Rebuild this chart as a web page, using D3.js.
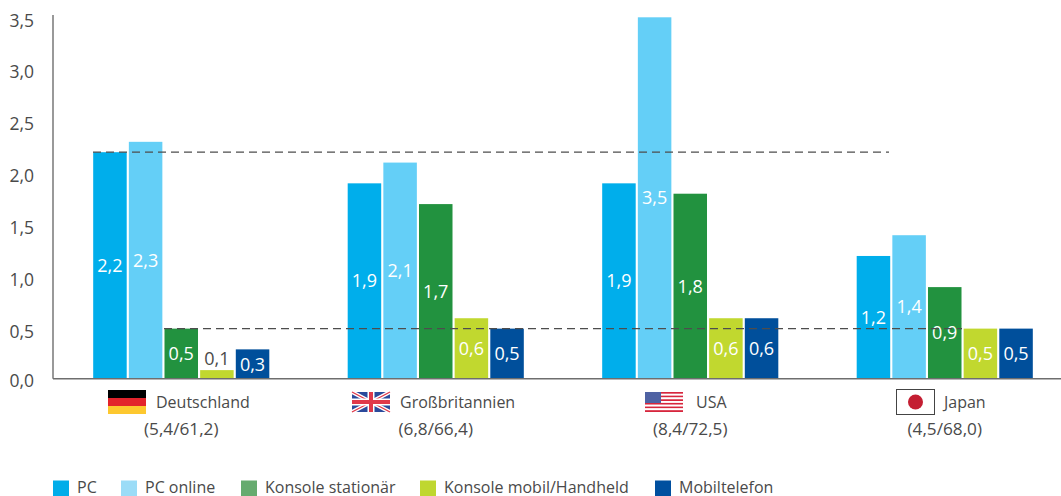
<!DOCTYPE html>
<html>
<head>
<meta charset="utf-8">
<script src="https://cdn.jsdelivr.net/npm/d3@7"></script>
<style>
  html, body { margin: 0; padding: 0; background: #fff; }
  svg { display: block; }
  text { font-family: "Open Sans", "Noto Sans", sans-serif; fill: #4a4a4a; }
</style>
</head>
<body>
<div id="chart"></div>
<script>

  var countries = ["Deutschland", "Großbritannien", "USA", "Japan"];
  var subLabels = ["(5,4/61,2)", "(6,8/66,4)", "(8,4/72,5)", "(4,5/68,0)"];
  var seriesNames = ["PC", "PC online", "Konsole stationär", "Konsole mobil/Handheld", "Mobiltelefon"];
  var pc = [2.2, 1.9, 1.9, 1.2];
  var pcOnline = [2.3, 2.1, 3.5, 1.4];
  var konsole = [0.5, 1.7, 1.8, 0.9];
  var handheld = [0.1, 0.6, 0.6, 0.5];
  var mobil = [0.3, 0.5, 0.6, 0.5];
  var yTicks = [0, 0.5, 1, 1.5, 2, 2.5, 3, 3.5];
  var refValues = [2.2, 0.5];

  var barColors = ["#00aeeb", "#64cff7", "#22923f", "#c1d82f", "#004f9b"];
  var legendColors = ["#00ade9", "#9bdcf7", "#66ab6f", "#bfd730", "#004f9f"];

  var allSeries = [pc, pcOnline, konsole, handheld, mobil];
  var comma = function(v) { return d3.format(".1f")(v).replace(".", ","); };

  var width = 1061, height = 496, axisY = 378.7;

  var svg = d3.select("#chart").append("svg")
    .attr("width", width)
    .attr("height", height);

  //=========================================================================
  // Scales
  //=========================================================================
  var y = d3.scaleLinear().domain([0, 3.5]).range([380.5, 17.3]);

  var x0 = d3.scaleBand().domain(countries).range([54, 1072])
    .paddingInner(0.308).paddingOuter(0.154);

  var x1 = d3.scaleBand().domain(d3.range(seriesNames.length))
    .range([0, x0.bandwidth()]).paddingInner(0.06);

  //=========================================================================
  // Bars
  //=========================================================================
  var groups = svg.selectAll(".group")
    .data(countries)
    .enter().append("g")
    .attr("class", "group")
    .attr("transform", function(d) { return "translate(" + x0(d) + ",0)"; });

  groups.each(function(country, c) {
    var g = d3.select(this);
    allSeries.forEach(function(values, s) {
      var v = values[c];
      g.append("rect")
        .attr("x", x1(s))
        .attr("y", y(v))
        .attr("width", x1.bandwidth())
        .attr("height", axisY - y(v))
        .attr("fill", barColors[s]);
    });
  });

  //=========================================================================
  // Axes and dashed reference lines
  //=========================================================================
  var yAxis = d3.axisLeft(y).tickValues(yTicks).tickFormat(comma).tickSize(0).tickPadding(0);
  var yG = svg.append("g").attr("transform", "translate(34,0)").call(yAxis);
  yG.select(".domain").remove();
  // the labels above zero sit a little under their tick in the original
  yG.selectAll("text")
    .attr("font-size", 17.5)
    .style("font-family", "\"Open Sans\", \"Noto Sans\", sans-serif")
    .style("fill", "#4a4a4a")
    .attr("dy", function(d) { return d === 0 ? "0.36em" : "0.5em"; });

  svg.append("line")
    .attr("x1", 53).attr("x2", 53).attr("y1", 15).attr("y2", axisY)
    .attr("stroke", "#6e6e6e").attr("stroke-width", 1.4);
  svg.append("line")
    .attr("x1", 53).attr("x2", width).attr("y1", axisY).attr("y2", axisY)
    .attr("stroke", "#6e6e6e").attr("stroke-width", 1.4);

  var refX = [[93, 889], [164, 962]];
  refValues.forEach(function(v, i) {
    svg.append("line")
      .attr("x1", refX[i][0]).attr("x2", refX[i][1])
      .attr("y1", y(v)).attr("y2", y(v))
      .attr("stroke", "#4d4d4d").attr("stroke-width", 1.2)
      .attr("stroke-dasharray", "8 5");
  });

  //=========================================================================
  // Value labels, mid bar (the 0,1 does not fit and sits on top)
  //=========================================================================
  groups.each(function(country, c) {
    var g = d3.select(this);
    allSeries.forEach(function(values, s) {
      var v = values[c];
      var outside = v < 0.2;
      g.append("text")
        .attr("x", x1(s) + x1.bandwidth() / 2)
        .attr("y", outside ? y(v) - 5 : (y(v) + axisY) / 2)
        .attr("dy", outside ? 0 : "0.36em")
        .attr("text-anchor", "middle")
        .attr("font-size", 18)
        .style("fill", outside ? "#4a4a4a" : "#fff")
        .text(comma(v));
    });
  });

  //=========================================================================
  // Country labels and flags
  //=========================================================================
  var flagX = [108, 352, 645, 896];
  var nameX = [156, 400, 696, 944];

  countries.forEach(function(c, i) {
    svg.append("text")
      .attr("x", nameX[i]).attr("y", 408)
      .attr("font-size", 16)
      .text(c);
    svg.append("text")
      .attr("x", x0(c) + x0.bandwidth() / 2).attr("y", 435)
      .attr("text-anchor", "middle")
      .attr("font-size", 17.2)
      .text(subLabels[i]);
  });

  function flagGermany(g) {
    [["#000", 390, 8], ["#e3232b", 398, 8], ["#fdc82f", 406, 8]].forEach(function(b) {
      g.append("rect").attr("x", 0).attr("y", b[1]).attr("width", 38).attr("height", b[2]).attr("fill", b[0]);
    });
  }

  function flagUK(g) {
    g.append("rect").attr("y", 392).attr("width", 38).attr("height", 20).attr("fill", "#2b4a9b");
    g.append("path").attr("d", "M0,392L38,412M38,392L0,412").attr("stroke", "#fff").attr("stroke-width", 4);
    g.append("path").attr("d", "M0,392L38,412M38,392L0,412").attr("stroke", "#e0384a").attr("stroke-width", 1.4);
    g.append("path").attr("d", "M19,392V412M0,402H38").attr("stroke", "#fff").attr("stroke-width", 7);
    g.append("path").attr("d", "M19,392V412M0,402H38").attr("stroke", "#e0384a").attr("stroke-width", 4);
  }

  function flagUSA(g) {
    d3.range(11).forEach(function(i) {
      g.append("rect").attr("y", 392 + i * 20 / 11).attr("width", 38).attr("height", 20 / 11)
        .attr("fill", i % 2 ? "#fff" : "#d7263d");
    });
    g.append("rect").attr("y", 392).attr("width", 16).attr("height", 11).attr("fill", "#4f62a3");
  }

  function flagJapan(g) {
    g.append("rect").attr("x", 0.5).attr("y", 389.5).attr("width", 38).attr("height", 25)
      .attr("fill", "#fff").attr("stroke", "#444").attr("stroke-width", 1);
    g.append("circle").attr("cx", 19.5).attr("cy", 402).attr("r", 7.5).attr("fill", "#c41e32");
  }

  [flagGermany, flagUK, flagUSA, flagJapan].forEach(function(draw, i) {
    draw(svg.append("g").attr("transform", "translate(" + flagX[i] + ",0)"));
  });

  //=========================================================================
  // Legend
  //=========================================================================
  var legendX = [53, 121, 241, 420, 655];

  seriesNames.forEach(function(name, i) {
    svg.append("rect")
      .attr("x", legendX[i]).attr("y", 480.5)
      .attr("width", 16).attr("height", 15.5)
      .attr("fill", legendColors[i]);
    svg.append("text")
      .attr("x", legendX[i] + 24).attr("y", 493)
      .attr("font-size", 16)
      .text(name);
  });

</script>
</body>
</html>
